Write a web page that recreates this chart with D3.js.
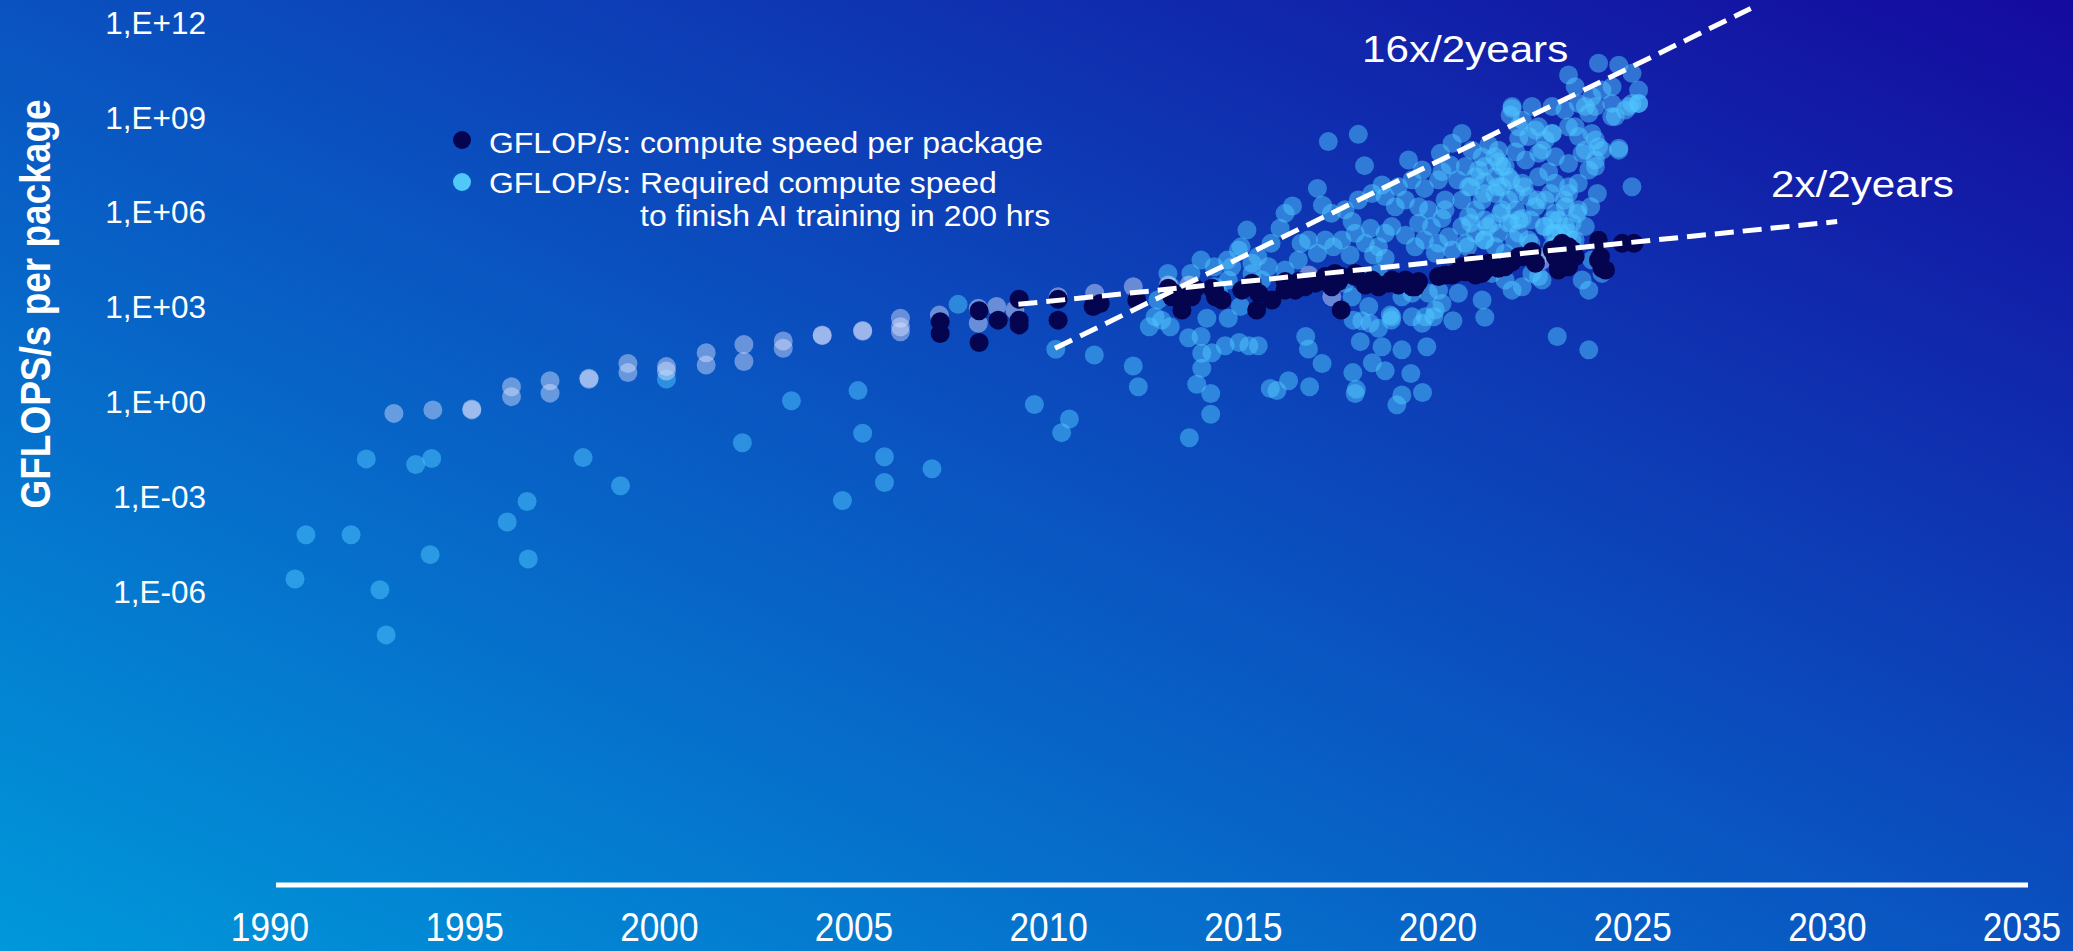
<!DOCTYPE html>
<html>
<head>
<meta charset="utf-8">
<script src="https://cdn.jsdelivr.net/npm/d3@7"></script>
<style>
  html, body { margin: 0; padding: 0; overflow: hidden; background: #0a55c0; }
  svg { display: block; }
  text { font-family: "Liberation Sans", Arial, Helvetica, sans-serif; fill: #ffffff; }
</style>
</head>
<body>
<svg id="chart" width="2073" height="951"></svg>
<script>
// ---- Axis ticks ----------------------------------------------------------
const xTickYears = [1990, 1995, 2000, 2005, 2010, 2015, 2020, 2025, 2030, 2035];
const yTickValues = [1e-6, 1e-3, 1e0, 1e3, 1e6, 1e9, 1e12];
const yTickLabels = ["1,E-06", "1,E-03", "1,E+00", "1,E+03", "1,E+06", "1,E+09", "1,E+12"];

// ---- Series: [year, log10(GFLOP/s)] -------------------------------------
// Compute speed per package (dark markers)
const computeSpeed = [
  [2007.11,2.54],[2007.11,2.17],[2008.11,2.89],[2008.11,1.88],[2008.6,2.59],
  [2009.14,3.25],[2009.14,2.59],[2009.14,2.44],[2010.14,3.25],[2010.14,2.59],
  [2011.04,3.02],[2011.22,3.12],[2012.16,3.23],[2012.97,3.6],[2013.06,3.49],
  [2013.06,3.33],[2013.27,3.33],[2013.32,2.91],[2013.57,3.44],[2013.57,3.33],
  [2013.66,3.6],[2014.09,3.6],[2014.16,3.54],[2014.18,3.33],[2014.35,3.23],
  [2014.86,3.54],[2015.12,3.76],[2015.29,3.44],[2015.24,2.91],[2015.63,3.23],
  [2015.97,3.81],[2015.97,3.54],[2016.23,3.54],[2016.31,3.81],[2016.31,3.7],
  [2016.48,3.65],[2016.74,3.76],[2017.0,3.97],[2017.0,3.81],[2017.17,3.65],
  [2017.25,4.07],[2017.34,3.81],[2017.42,3.97],[2017.41,2.91],[2017.77,4.07],
  [2017.77,3.97],[2018.03,3.7],[2018.2,3.86],[2018.29,3.76],[2018.37,3.65],
  [2018.63,3.76],[2018.71,3.86],[2018.88,3.7],[2019.06,3.86],[2019.14,3.76],
  [2019.23,3.65],[2019.31,3.65],[2019.4,3.81],[2019.91,3.97],[2020.08,4.02],
  [2020.26,4.02],[2020.34,4.07],[2020.51,4.28],[2020.6,4.12],[2020.77,4.18],
  [2020.77,4.39],[2020.86,4.02],[2020.94,4.34],[2021.03,4.07],[2021.1,4.18],
  [2021.2,4.39],[2021.36,4.28],[2021.45,4.23],[2021.62,4.28],[2021.8,4.44],
  [2021.97,4.6],[2022.06,4.6],[2022.31,4.76],[2022.4,4.39],[2022.83,4.81],
  [2022.91,4.6],[2022.99,4.18],[2022.99,4.28],[2023.08,5.02],[2023.16,4.49],
  [2023.25,4.91],[2023.25,4.28],[2023.34,4.81],[2023.42,4.6],[2024.02,5.13],
  [2024.02,4.49],[2024.07,4.6],[2024.11,4.23],[2024.2,4.18],[2024.63,5.02],
  [2024.93,5.02]
];

// Compute speed required to finish AI training in 200 hrs (light markers)
const requiredSpeed = [
  [1990.54,-5.60],[1990.82,-4.20],[1991.98,-4.20],[1992.37,-1.80],[1992.72,-5.94],
  [1992.88,-7.37],[1993.64,-1.98],[1994.01,-4.83],[1994.05,-1.79],[1995.99,-3.80],
  [1996.5,-3.15],[1996.53,-4.97],[1997.94,-1.76],[1998.9,-2.65],[2000.08,0.73],
  [2002.03,-1.29],[2003.29,0.04],[2004.6,-3.12],[2005.0,0.36],[2005.12,-0.99],
  [2005.68,-1.73],[2005.68,-2.55],[2006.9,-2.11],[2007.57,3.09],[2009.53,-0.08],
  [2010.08,1.67],[2010.23,-0.97],[2010.43,-0.54],[2011.07,1.49],[2012.07,1.14],
  [2012.2,0.48],[2013.51,-1.13],
  [2012.48,2.38],[2012.63,2.70],[2012.8,2.59],[2013.02,2.38],[2013.49,2.03],
  [2013.81,2.07],[2013.83,1.54],[2014.09,1.56],[2013.83,1.07],[2013.7,0.56],
  [2014.06,0.27],[2014.06,-0.39],[2013.96,2.65],[2014.51,2.65],[2014.43,1.78],
  [2014.79,1.88],[2015.04,1.78],[2015.28,1.78],[2015.59,0.43],[2015.76,0.36],
  [2016.06,0.67],[2016.5,2.07],[2016.57,1.68],[2016.92,1.22],[2016.6,0.48],
  [2014.26,3.44],[2014.82,3.02],[2014.51,3.86],[2014.17,3.65],[2015.12,4.07],
  [2015.37,3.86],[2014.99,5.44],[2015.84,5.50],[2016.16,6.20],[2016.93,6.23],
  [2016.8,6.76],[2017.08,8.24],[2017.85,8.47],[2018.01,7.48],[2015.97,5.97],
  [2016.31,4.49],[2015.97,4.18],[2015.54,4.28],[2015.12,4.39],[2014.77,4.81],
  [2014.6,4.28],[2016.57,5.13],[2017.0,5.13],
  [2017.72,2.59],[2017.94,2.57],[2018.15,2.49],[2018.37,2.33],[2017.9,1.91],
  [2018.46,1.75],[2017.71,0.93],[2018.21,1.24],[2018.54,0.99],[2017.8,0.40],
  [2017.77,0.27],[2018.97,0.22],[2018.84,-0.09],[2018.97,1.65],[2019.61,1.75],
  [2018.67,2.75],[2018.7,2.59],[2019.49,2.49],[2019.79,2.70],[2020.28,2.57],
  [2021.1,2.68],[2022.96,2.07],[2023.77,1.65],[2019.2,0.9],[2019.5,0.3],
  [2017.69,3.33],[2018.12,3.02],[2018.71,2.70],[2019.23,2.70],[2019.57,2.70],
  [2019.83,2.91],[2020.0,3.12],[2020.42,3.44],[2021.03,3.23],[2021.8,3.54],
  [2022.06,3.65],[2022.48,3.97],[2018.97,3.33],[2019.23,3.44],[2019.65,3.44],
  [2019.91,3.54],[2018.37,4.07],[2017.85,3.97],[2017.51,3.76],[2017.08,3.86],
  [2017.21,4.91],[2017.64,4.65],[2018.24,4.65],[2018.54,4.55],[2018.71,5.55],
  [2019.06,5.28],[2019.31,4.91],[2020.08,6.08],[2020.17,5.23],[2019.83,4.71],
  [2020.26,4.81],[2020.6,5.02],
  [2017.69,5.71],[2018.16,5.50],[2018.46,6.87],[2018.8,6.18],[2019.06,6.39],
  [2019.4,6.18],[2019.55,6.76],[2019.96,7.87],[2020.26,8.19],[2020.51,8.50],
  [2020.0,7.29],[2020.21,7.5],[2019.91,7.03],[2020.08,6.39],[2020.0,5.81],
  [2020.51,6.39],[2020.68,6.81],[2020.6,7.45],
  [2021.03,7.76],[2021.1,6.97],[2021.03,6.39],[2020.86,6.08],[2021.1,5.76],
  [2021.45,7.6],[2021.62,7.45],[2021.8,9.29],[2022.06,8.92],[2021.97,8.34],
  [2022.4,8.61],[2022.65,8.29],[2022.83,8.5],[2021.89,7.92],[2022.15,7.66],
  [2022.49,7.87],[2021.54,6.81],[2021.89,6.6],[2022.06,6.92],[2021.89,6.08],
  [2022.06,5.81],[2021.8,5.66],[2022.48,7.13],[2022.74,7.29],[2022.91,6.92],
  [2023.25,6.81],[2022.65,6.39],[2022.91,5.97],[2023.17,6.18],[2023.34,5.66],
  [2023.16,9.24],[2023.42,8.71],[2023.77,9.14],[2023.94,8.29],[2024.11,7.97],
  [2023.94,7.45],[2023.6,7.87],[2024.54,8.03],[2024.88,6.81],[2024.36,9.03],
  [2024.88,9.45],[2023.5,6.92],[2023.25,6.6],[2023.25,5.34],[2022.83,4.91],
  [2023.68,5.55],[2023.6,3.86],[2023.77,3.54],
  [2020.86,5.34],[2021.1,5.13],[2021.36,4.91],[2021.62,4.71],[2022.22,5.13],
  [2022.48,4.6],[2022.91,4.91],[2021.28,4.07],[2021.62,3.86],[2022.31,4.07],
  [2022.57,3.86],[2024.02,5.13],[2023.85,4.49],[2024.11,4.07],
  [2024.02,10.72],[2024.54,10.66],[2024.88,10.4],[2023.25,10.35],[2025.05,9.87],
  [2025.05,9.45],[2024.71,9.24],[2024.45,9.03],[2024.11,9.87],[2024.37,9.98],
  [2023.85,9.66],[2023.68,9.35],[2023.42,9.98],[2022.83,9.35],[2022.31,9.35],
  [2021.8,9.35],[2022.48,8.71],[2022.83,8.5],[2022.23,8.4],[2021.97,8.71],
  [2023.25,8.71],[2023.51,8.4],[2023.85,8.5],[2024.02,8.08],[2023.68,7.97],
  [2023.94,7.66],[2023.77,7.34],[2024.54,7.97],[2021.54,7.45],[2021.36,7.76],
  [2021.1,7.45],[2020.86,7.13],[2021.97,5.76],[2021.71,5.66],[2021.97,5.34],
  [2022.83,5.76],[2023.17,5.55],[2023.34,5.13],[2022.91,5.34],
  [2021.75,9.08],[2023.5,9.45],[2023.94,9.35],[2024.36,9.45],[2024.79,9.35],
  [2025.05,9.45],[2022.57,7.97],[2022.91,7.76],[2023.25,7.55],[2021.2,8.13],
  [2021.45,7.97],[2020.77,7.97],[2020.94,7.34],[2021.36,7.13],[2021.71,7.13],
  [2021.36,6.6],[2021.71,6.39],[2021.54,6.08],[2022.22,6.5],[2022.4,6.18],
  [2020.68,5.86],[2020.51,5.55],[2021.28,5.66],[2021.45,5.34],[2022.65,5.55],
  [2022.99,5.76],[2022.83,5.34],[2023.5,6.08],[2023.42,5.13],[2019.73,5.55],
  [2019.55,5.13],[2019.91,5.02],[2019.65,6.08],[2019.4,5.66],[2018.54,5.34],
  [2018.37,4.91],[2018.03,5.02],[2017.77,5.34],[2017.43,5.13],[2017.16,5.97],
  [2017.51,6.08],[2017.85,6.39],[2018.2,6.6],[2018.54,6.5],[2018.88,6.81],
  [2019.23,7.03],[2019.49,7.34],[2019.14,7.66],[2016.38,5.02],[2016.8,4.71],
  [2015.61,5.02],[2015.27,4.6],[2014.84,4.91],[2014.49,4.49],[2014.15,4.28],
  [2013.81,4.49],[2013.55,4.07],[2013.04,3.65],[2012.7,3.23],[2012.96,4.07],
  [2020.4,7.03],[2020.74,6.81],[2021.09,6.6],[2021.43,6.81],[2021.77,7.03],
  [2022.11,6.81],[2022.45,6.39],[2022.79,6.6],[2023.14,6.39],[2023.48,5.97],
  [2023.82,6.18],[2023.99,6.6],[2020.74,5.66],[2021.17,5.55],[2021.51,5.97],
  [2022.28,5.76],[2022.62,5.55],[2023.06,5.34],[2021.86,5.13],[2022.28,5.02],
  [2021.08,5.13],[2020.66,4.91]
];

// Earlier package generations (pale markers, no legend entry)
const earlierSpeed = [
  [1993.08,-0.36],[1994.08,-0.25],[1995.08,-0.25],[1995.08,-0.22],[1996.1,0.48],
  [1996.1,0.17],[1997.09,0.67],[1997.09,0.28],[1998.09,0.75],[1998.09,0.72],
  [1999.09,1.22],[1999.09,0.93],[2000.08,1.12],[2000.08,0.98],[2001.1,1.56],
  [2001.1,1.17],[2002.07,1.82],[2002.07,1.28],[2003.08,1.93],[2003.08,1.70],
  [2004.08,2.12],[2004.08,2.10],[2005.12,2.26],[2005.12,2.24],[2006.09,2.65],
  [2006.09,2.38],[2006.09,2.22],[2007.09,2.75],[2008.09,2.97],[2008.09,2.49],
  [2008.56,3.02],[2009.03,2.91],[2010.14,3.33],[2011.08,3.44],[2012.07,3.65],
  [2012.97,3.70],[2013.5,3.7],[2016.58,4.02],[2017.17,3.33],[2022.58,4.49]
];

// Trend lines: [year, log10(GFLOP/s)] end points
const trend2x = [[2009.12, 3.09], [2030.15, 5.71]];
const trend16x = [[2010.06, 1.70], [2027.93, 12.45]];

const legendLabels = [
  "GFLOP/s: compute speed per package",
  "GFLOP/s: Required compute speed",
  "to finish AI training in 200 hrs"
];

// ---- Drawing -------------------------------------------------------------
const W = 2073, H = 951;
const svg = d3.select("#chart");

// diagonal background gradient
const defs = svg.append("defs");
const grad = defs.append("linearGradient")
  .attr("id", "bg").attr("x1", 0).attr("y1", 1).attr("x2", 1).attr("y2", 0);
grad.append("stop").attr("offset", "0%").attr("stop-color", "#0098da");
grad.append("stop").attr("offset", "50%").attr("stop-color", "#0a52c0");
grad.append("stop").attr("offset", "100%").attr("stop-color", "#150a9e");
svg.append("rect").attr("width", W).attr("height", H).attr("fill", "url(#bg)");

const x = d3.scaleLinear().domain([1990, 2035]).range([274, 2026]);
const y = d3.scaleLog().domain([1e-15, 1e12]).range([876, 22.8]);
const px = d => x(d[0]);
const py = d => y(Math.pow(10, d[1]));

// x axis baseline and year labels
const axisY = 885;
svg.append("line")
  .attr("x1", x(1990) + 2).attr("x2", x(2035) + 2)
  .attr("y1", axisY).attr("y2", axisY)
  .attr("stroke", "#ffffff").attr("stroke-width", 5);

svg.append("g").selectAll("text").data(xTickYears).join("text")
  .attr("transform", d => `translate(${x(d) - 4},941) scale(0.86,1)`)
  .attr("text-anchor", "middle")
  .style("font-size", "41px")
  .text(d => d);

// y tick labels
svg.append("g").selectAll("text").data(yTickValues).join("text")
  .attr("x", 206)
  .attr("y", d => y(d) + 11)
  .attr("text-anchor", "end")
  .style("font-size", "31.5px")
  .text((d, i) => yTickLabels[i]);

// y axis title
svg.append("text")
  .attr("transform", "translate(50,304) rotate(-90) scale(1,1.13)")
  .attr("text-anchor", "middle")
  .style("font-size", "37px")
  .style("font-weight", "bold")
  .text("GFLOPS/s per package");

// scatter layers
const r = 9.5;
svg.append("g").selectAll("circle").data(requiredSpeed).join("circle")
  .attr("cx", px).attr("cy", py).attr("r", r)
  .attr("fill", "rgb(80,200,255)").attr("fill-opacity", 0.5);

svg.append("g").selectAll("circle").data(earlierSpeed).join("circle")
  .attr("cx", px).attr("cy", py).attr("r", r)
  .attr("fill", "rgb(220,228,255)").attr("fill-opacity", 0.45);

svg.append("g").selectAll("circle").data(computeSpeed).join("circle")
  .attr("cx", px).attr("cy", py).attr("r", r)
  .attr("fill", "#05044f");

// dashed trend lines
const trendLine = d3.line().x(px).y(py);
[trend16x, trend2x].forEach(t => {
  svg.append("path")
    .attr("d", trendLine(t))
    .attr("fill", "none")
    .attr("stroke", "#ffffff")
    .attr("stroke-width", 5)
    .attr("stroke-dasharray", "19,9");
});

// trend annotations
svg.append("text")
  .attr("transform", "translate(1362,62) scale(1.14,1)")
  .style("font-size", "37px")
  .text("16x/2years");
svg.append("text")
  .attr("transform", "translate(1771,197) scale(1.14,1)")
  .style("font-size", "37px")
  .text("2x/2years");

// legend
const legend = svg.append("g");
legend.append("circle").attr("cx", 462).attr("cy", 140).attr("r", 9).attr("fill", "#05044f");
legend.append("circle").attr("cx", 462).attr("cy", 182).attr("r", 9).attr("fill", "rgb(80,200,250)");
[[489, 153], [489, 193], [640, 226]].forEach((p, i) => {
  legend.append("text")
    .attr("transform", `translate(${p[0]},${p[1]}) scale(1.065,1)`)
    .style("font-size", "30px")
    .text(legendLabels[i]);
});
</script>
</body>
</html>
